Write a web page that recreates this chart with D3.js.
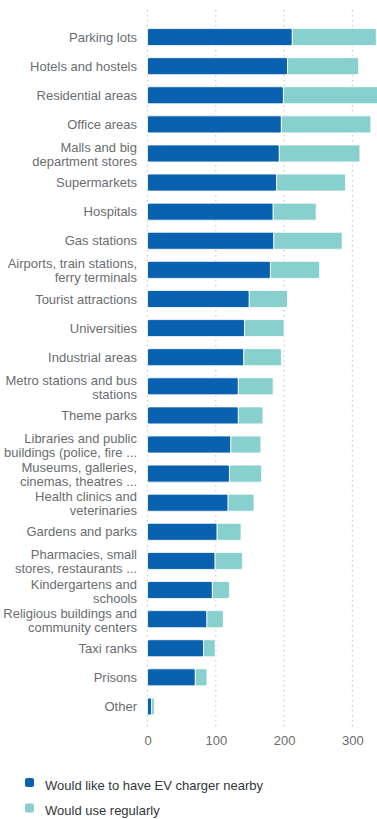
<!DOCTYPE html>
<html>
<head>
<meta charset="utf-8">
<script src="https://cdn.jsdelivr.net/npm/d3@7"></script>
<style>
  html, body { margin: 0; padding: 0; background: #fff; }
  svg { display: block; }
  text { font-family: "Liberation Sans", Arial, sans-serif; }
</style>
</head>
<body>
<svg id="chart" width="377" height="819"></svg>
<script>
// Locations where respondents want EV chargers (stacked counts)
const categories = [
  ["Parking lots"],
  ["Hotels and hostels"],
  ["Residential areas"],
  ["Office areas"],
  ["Malls and big", "department stores"],
  ["Supermarkets"],
  ["Hospitals"],
  ["Gas stations"],
  ["Airports, train stations,", "ferry terminals"],
  ["Tourist attractions"],
  ["Universities"],
  ["Industrial areas"],
  ["Metro stations and bus", "stations"],
  ["Theme parks"],
  ["Libraries and public", "buildings (police, fire ..."],
  ["Museums, galleries,", "cinemas, theatres ..."],
  ["Health clinics and", "veterinaries"],
  ["Gardens and parks"],
  ["Pharmacies, small", "stores, restaurants ..."],
  ["Kindergartens and", "schools"],
  ["Religious buildings and", "community centers"],
  ["Taxi ranks"],
  ["Prisons"],
  ["Other"]
];
const wouldLikeNearby = [212, 205, 199, 196, 193, 189, 184, 185, 180, 149, 142, 141, 133, 133, 122, 120, 118, 102, 99, 95, 87, 82, 70, 6];
const wouldUseRegularly = [123, 104, 141, 131, 118, 101, 63, 100, 72, 56, 58, 55, 51, 36, 44, 47, 38, 35, 40, 25, 24, 17, 17, 4];
const seriesNames = ["Would like to have EV charger nearby", "Would use regularly"];
const seriesColors = ["#0a61b0", "#88d0cd"];
const xTicks = [0, 100, 200, 300];

const svg = d3.select("#chart");
const left = 147.5, right = 377;
const gridTop = 10, gridBottom = 728;

const rows = categories.map((c, i) => ({
  key: c.join(" "),
  lines: c,
  values: [wouldLikeNearby[i], wouldUseRegularly[i]]
}));

const x = d3.scaleLinear().domain([0, 336]).range([left, right]);
const y = d3.scaleBand()
  .domain(rows.map(r => r.key))
  .range([22.5, 721])
  .paddingInner(0.415)
  .paddingOuter(0.2075);

// dotted vertical grid
svg.append("g").selectAll("line")
  .data(xTicks)
  .join("line")
  .attr("x1", d => x(d)).attr("x2", d => x(d))
  .attr("y1", gridTop).attr("y2", gridBottom)
  .attr("stroke", "#c9cbcd")
  .attr("stroke-width", 1.2)
  .attr("stroke-dasharray", "1.5 3.5");

// stacked bars
const stack = d3.stack().keys([0, 1]).value((r, k) => r.values[k]);
const stacked = stack(rows);

svg.append("g")
  .selectAll("g")
  .data(stacked)
  .join("g")
  .attr("fill", (s, i) => seriesColors[i])
  .selectAll("rect")
  .data(s => s)
  .join("rect")
  .attr("x", d => x(d[0]))
  .attr("y", d => y(d.data.key))
  .attr("width", d => Math.max(0, x(d[1]) - x(d[0])))
  .attr("height", y.bandwidth())
  .attr("rx", 1.5)
  .attr("stroke", "#ffffff")
  .attr("stroke-opacity", 0.8)
  .attr("stroke-width", 1);

// category labels
const lineH = 14;
const labels = svg.append("g")
  .attr("fill", "#6a6d70")
  .attr("font-size", 13)
  .attr("text-anchor", "end");
labels.selectAll("text")
  .data(rows)
  .join("text")
  .attr("x", 137)
  .attr("y", d => y(d.key) + y.bandwidth() / 2 - (d.lines.length - 1) * lineH / 2 + (d.lines.length > 1 ? 1 : 0))
  .each(function (d) {
    d3.select(this).selectAll("tspan")
      .data(d.lines)
      .join("tspan")
      .attr("x", 137)
      .attr("dy", (l, i) => i === 0 ? "0.35em" : lineH)
      .text(l => l);
  });

// x axis labels
const axis = d3.axisBottom(x).tickValues(xTicks).tickSize(0).tickPadding(0);
const ax = svg.append("g")
  .attr("transform", "translate(0, 736)")
  .call(axis);
ax.select(".domain").remove();
ax.selectAll("text")
  .attr("fill", "#6a6d70")
  .attr("font-size", 13)
  .attr("font-family", "Liberation Sans, Arial, sans-serif");

// legend
const legend = svg.append("g").attr("transform", "translate(25, 778)");
const li = legend.selectAll("g")
  .data(seriesNames)
  .join("g")
  .attr("transform", (d, i) => `translate(0, ${i * 25.5})`);
li.append("rect")
  .attr("width", 9).attr("height", 9).attr("rx", 2)
  .attr("fill", (d, i) => seriesColors[i]);
li.append("text")
  .attr("x", 20).attr("y", 11.5)
  .attr("font-size", 13)
  .attr("fill", "#32363a")
  .text(d => d);
</script>
</body>
</html>
